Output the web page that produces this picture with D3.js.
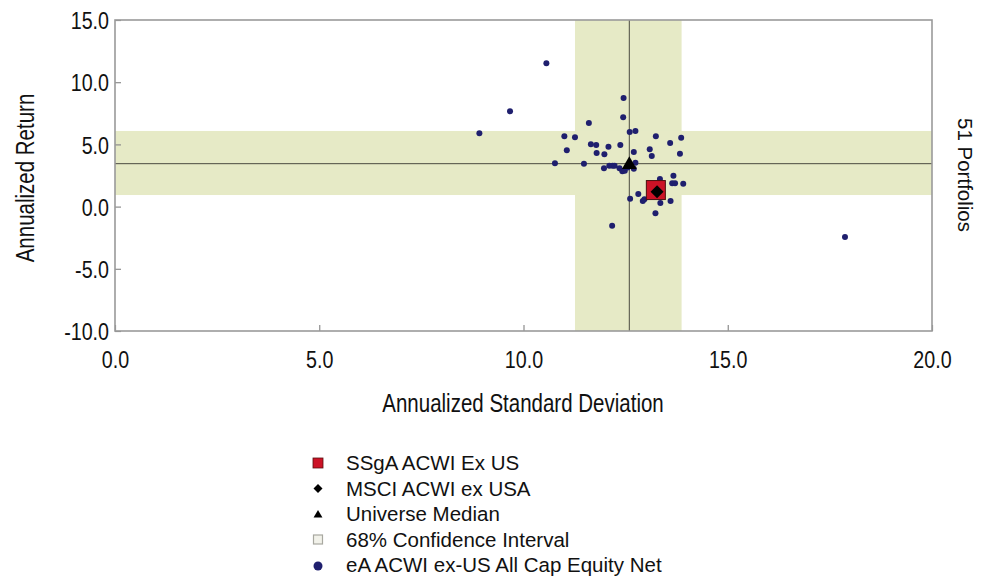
<!DOCTYPE html>
<html>
<head>
<meta charset="utf-8">
<script src="https://cdn.jsdelivr.net/npm/d3@7"></script>
<style>
  html, body { margin: 0; padding: 0; background: #ffffff; }
  svg { display: block; }
  .narrow { font-family: "Liberation Sans", Arial, sans-serif; }
  .reg { font-family: "Liberation Sans", Arial, sans-serif; }
</style>
</head>
<body>
<svg id="chart" width="986" height="579"></svg>
<script>
// ---- data ----
const portfolioSD = [10.56, 9.67, 8.92, 12.45, 12.44, 11.60, 12.60, 12.74, 11.00, 11.26,
  13.24, 13.86, 13.59, 11.65, 11.78, 12.08, 12.37, 11.06, 11.79, 11.98,
  12.70, 13.09, 13.14, 13.83, 10.77, 11.48, 11.97, 12.10, 12.18, 12.23,
  12.35, 12.42, 12.48, 12.74, 13.67, 13.34, 13.64, 13.71, 13.91, 12.81,
  12.61, 12.92, 12.96, 13.35, 13.60, 13.23, 12.17, 17.87, 12.70, 12.55, 13.20];
const portfolioReturn = [11.52, 7.66, 5.89, 8.73, 7.18, 6.72, 6.00, 6.08, 5.65, 5.57,
  5.65, 5.54, 5.11, 5.01, 4.95, 4.82, 4.95, 4.53, 4.31, 4.20,
  4.39, 4.61, 4.07, 4.25, 3.48, 3.45, 3.08, 3.29, 3.29, 3.29,
  3.08, 2.84, 2.89, 3.53, 2.48, 2.22, 1.87, 1.87, 1.84, 1.01,
  0.64, 0.45, 0.59, 0.29, 0.45, -0.54, -1.54, -2.44, 3.05, 3.15, 1.50];

const fundPoint = [13.24, 1.33];        // SSgA ACWI Ex US
const benchmarkPoint = [13.27, 1.20];   // MSCI ACWI ex USA
const medianPoint = [12.59, 3.45];      // Universe Median
const ciSD = [11.26, 13.87];            // 68% confidence interval (std dev)
const ciReturn = [0.93, 6.08];          // 68% confidence interval (return)

const xTicks = [0, 5, 10, 15, 20];
const yTicks = [-10, -5, 0, 5, 10, 15];
const legendLabels = ["SSgA ACWI Ex US", "MSCI ACWI ex USA", "Universe Median",
  "68% Confidence Interval", "eA ACWI ex-US All Cap Equity Net"];
const xTitle = "Annualized Standard Deviation";
const yTitle = "Annualized Return";
const rightTitle = "51 Portfolios";

// ---- layout ----
const svg = d3.select("#chart");
const L = 115, T = 20, R = 932, B = 331;
const x = d3.scaleLinear().domain([0, 20]).range([L, R]);
const y = d3.scaleLinear().domain([-10, 15]).range([B, T]);
const NX = 0.82; // horizontal condensing of the narrow face
const fmt = d3.formatLocale({ decimal: ".", thousands: ",", grouping: [3], currency: ["$", ""], minus: "-" }).format(".1f");

const bandColor = "#e6eac6";
const dotColor = "#1f1f6e";

// confidence bands
svg.append("rect").attr("x", x(ciSD[0])).attr("y", T)
  .attr("width", x(ciSD[1]) - x(ciSD[0])).attr("height", B - T).attr("fill", bandColor);
svg.append("rect").attr("x", L).attr("y", y(ciReturn[1]))
  .attr("width", R - L).attr("height", y(ciReturn[0]) - y(ciReturn[1])).attr("fill", bandColor);

// median lines
svg.append("line").attr("x1", x(medianPoint[0])).attr("x2", x(medianPoint[0]))
  .attr("y1", T).attr("y2", B).attr("stroke", "#4a4a40").attr("stroke-width", 1);
svg.append("line").attr("x1", L).attr("x2", R)
  .attr("y1", y(medianPoint[1])).attr("y2", y(medianPoint[1])).attr("stroke", "#4a4a40").attr("stroke-width", 1);

// axes (ticks inward)
const xAxis = d3.axisBottom(x).tickValues(xTicks).tickSize(-6).tickPadding(20).tickFormat(fmt);
const yAxis = d3.axisLeft(y).tickValues(yTicks).tickSize(-6).tickPadding(6).tickFormat(fmt);

const gx = svg.append("g").attr("transform", `translate(0,${B})`).call(xAxis);
const gy = svg.append("g").attr("transform", `translate(${L},0)`).call(yAxis);
[gx, gy].forEach(g => {
  g.select(".domain").remove();
  g.selectAll(".tick line").attr("stroke", "#8c8c8c").attr("stroke-width", 1.2);
  g.selectAll(".tick text").attr("class", "narrow").attr("fill", "#111")
    .style("font-size", "24px").attr("transform", `scale(${NX},1)`);
});
gy.selectAll(".tick text").attr("dy", "0.36em").attr("x", -6 / NX);
gx.selectAll(".tick text").attr("dy", "0.71em");

// frame
svg.append("rect").attr("x", L).attr("y", T).attr("width", R - L).attr("height", B - T)
  .attr("fill", "none").attr("stroke", "#9a9a9a").attr("stroke-width", 1.6);

// portfolio dots
svg.append("g").selectAll("circle").data(portfolioSD.map((s, i) => [s, portfolioReturn[i]]))
  .join("circle")
  .attr("cx", d => x(d[0])).attr("cy", d => y(d[1])).attr("r", 3)
  .attr("fill", dotColor);

// median triangle
svg.append("path").attr("d", d3.symbol(d3.symbolTriangle, 95)())
  .attr("transform", `translate(${x(medianPoint[0])},${y(medianPoint[1]) + 1})`).attr("fill", "#000");

// fund square
const sq = 19;
svg.append("rect").attr("x", x(fundPoint[0]) - sq / 2).attr("y", y(fundPoint[1]) - sq / 2)
  .attr("width", sq).attr("height", sq).attr("fill", "#cc1226").attr("stroke", "#4a1010").attr("stroke-width", 1);

// benchmark diamond
svg.append("path").attr("d", "M0,-6.5L6.5,0L0,6.5L-6.5,0Z")
  .attr("transform", `translate(${x(benchmarkPoint[0])},${y(benchmarkPoint[1])})`).attr("fill", "#000");

// titles
svg.append("text").attr("class", "narrow").attr("transform", `translate(${523},403) scale(${NX},1)`)
  .attr("text-anchor", "middle").attr("dy", "0.35em").style("font-size", "25px").attr("fill", "#111").text(xTitle);
svg.append("text").attr("class", "narrow").attr("transform", `translate(25,${178}) rotate(-90) scale(${NX},1)`)
  .attr("text-anchor", "middle").attr("dy", "0.35em").style("font-size", "25px").attr("fill", "#111").text(yTitle);
svg.append("text").attr("class", "reg").attr("transform", `translate(965,${175}) rotate(90)`)
  .attr("text-anchor", "middle").attr("dy", "0.35em").style("font-size", "20.5px").attr("fill", "#111").text(rightTitle);

// legend
const lg = svg.append("g");
const lx = 318, ly0 = 463, ldy = 25.5;
legendLabels.forEach((lab, i) => {
  const cy = ly0 + i * ldy;
  lg.append("text").attr("class", "reg").attr("x", 346).attr("y", cy).attr("dy", "0.35em")
    .style("font-size", "20.5px").attr("fill", "#111").text(lab);
});
lg.append("rect").attr("x", lx - 5).attr("y", ly0 - 5).attr("width", 10).attr("height", 10)
  .attr("fill", "#cc1226").attr("stroke", "#5a1010").attr("stroke-width", 0.8);
lg.append("path").attr("d", "M0,-4.5L4.5,0L0,4.5L-4.5,0Z")
  .attr("transform", `translate(${lx},${ly0 + ldy})`).attr("fill", "#000");
lg.append("path").attr("d", d3.symbol(d3.symbolTriangle, 34)())
  .attr("transform", `translate(${lx},${ly0 + 2 * ldy + 1})`).attr("fill", "#000");
lg.append("rect").attr("x", lx - 4.5).attr("y", ly0 + 3 * ldy - 4.5).attr("width", 9).attr("height", 9)
  .attr("fill", "#f2f2ea").attr("stroke", "#a8a8a0").attr("stroke-width", 1.2);
lg.append("circle").attr("cx", lx).attr("cy", ly0 + 4 * ldy + 1).attr("r", 4.5).attr("fill", dotColor);
</script>
</body>
</html>
